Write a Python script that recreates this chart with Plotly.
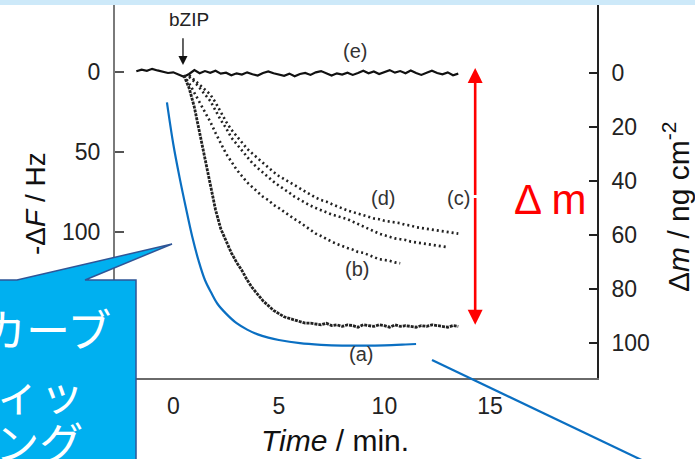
import plotly.graph_objects as go

# ---------------- data ----------------
# x = time / min, y = -dF / Hz (left axis)
t_e = [-1.75, -1.5, -1.25, -1.0, -0.75, -0.5, -0.25, 0.0, 0.25, 0.5, 0.75, 1.0, 1.25, 1.5, 1.75,
       2.0, 2.25, 2.5, 2.75, 3.0, 3.25, 3.5, 3.75, 4.0, 4.25, 4.5, 4.75, 5.0, 5.25, 5.5, 5.75,
       6.0, 6.25, 6.5, 6.75, 7.0, 7.25, 7.5, 7.75, 8.0, 8.25, 8.5, 8.75, 9.0, 9.25, 9.5, 9.75,
       10.0, 10.25, 10.5, 10.75, 11.0, 11.25, 11.5, 11.75, 12.0, 12.25, 12.5, 12.75, 13.0, 13.25, 13.5]
f_e = [-0.5, -1.5, -0.8, -2.0, -1.0, -0.2, 0.6, 0.2, 1.5, 3.0, 1.2, -1.2, 0.8, -0.6, 0.5,
       -0.8, 1.0, 0.4, 2.0, 0.8, 1.6, 0.2, 1.4, 2.2, 0.6, -0.4, 0.8, 1.5, 2.4, 1.0, 2.6,
       1.2, 0.6, 1.8, 0.2, -0.6, 1.0, 2.2, 0.8, 1.6, 0.4, 1.8, 0.6, -0.8, 0.8, -0.4, 1.2,
       0.2, -1.2, 0.4, -0.6, 0.8, -1.0, 0.6, 1.8, 0.4, -0.8, 0.6, 1.4, 0.2, 2.0, 1.0]

t_a = [0.5, 0.75, 1.0, 1.25, 1.5, 1.75, 2.0, 2.25, 2.5, 2.75, 3.0, 3.25, 3.5, 3.75, 4.0, 4.25,
       4.5, 4.75, 5.0, 5.25, 5.5, 5.75, 6.0, 6.25, 6.5, 6.75, 7.0, 7.25, 7.5, 7.75, 8.0, 8.25,
       8.5, 8.75, 9.0, 9.25, 9.5, 9.75, 10.0, 10.25, 10.5, 10.75, 11.0, 11.25, 11.5, 11.75,
       12.0, 12.25, 12.5, 12.75, 13.0, 13.25, 13.5]
f_a = [2, 10, 22, 38, 55, 72, 86, 98, 106, 113, 119, 124, 130, 135, 139, 143,
       146, 149, 151, 153, 154, 155, 156, 157, 157, 157.5, 158, 157, 158.5, 158, 159, 158,
       158.5, 159.5, 158, 158.5, 159, 158, 158.5, 159.5, 158, 159, 158.5, 159, 159.5, 158.5,
       159, 158, 158.5, 159, 159.5, 158.5, 159]

t_b = [0.5, 0.75, 1.0, 1.25, 1.5, 1.75, 2.0, 2.25, 2.5, 2.75, 3.0, 3.25, 3.5, 3.75, 4.0, 4.25,
       4.5, 4.75, 5.0, 5.25, 5.5, 5.75, 6.0, 6.25, 6.5, 6.75, 7.0, 7.25, 7.5, 7.75, 8.0, 8.25,
       8.5, 8.75, 9.0, 9.25, 9.5, 9.75, 10.0, 10.25, 10.5, 10.75]
f_b = [2, 7, 13, 19, 25, 31, 38, 45, 51, 56, 61, 65, 69, 72, 75, 78,
       80, 83, 85, 87.5, 90, 92, 94, 96.5, 98.5, 101, 102.5, 104, 106, 107.5, 109, 110,
       111, 112.5, 113, 114.5, 115.5, 117, 117.5, 118, 119, 119.5]

t_c = [0.75, 1.0, 1.25, 1.5, 1.75, 2.0, 2.25, 2.5, 2.75, 3.0, 3.25, 3.5, 3.75, 4.0, 4.25, 4.5,
       4.75, 5.0, 5.25, 5.5, 5.75, 6.0, 6.25, 6.5, 6.75, 7.0, 7.25, 7.5, 7.75, 8.0, 8.25, 8.5,
       8.75, 9.0, 9.25, 9.5, 9.75, 10.0, 10.25, 10.5, 10.75, 11.0, 11.25, 11.5, 11.75, 12.0,
       12.25, 12.5, 12.75, 13.0]
f_c = [3, 6, 10, 14, 18, 24, 30, 35, 41, 45, 49, 53, 57, 60, 63, 66,
       68.5, 71, 73, 75.5, 78, 80, 81.5, 83.5, 85, 86.5, 87.5, 89, 90, 91, 92, 93.5,
       95, 97, 98.5, 100, 101, 102, 103, 104, 104.5, 105, 106, 106.5, 107, 107.5,
       108, 108.5, 109, 109.5]

t_d = [0.75, 1.0, 1.25, 1.5, 1.75, 2.0, 2.25, 2.5, 2.75, 3.0, 3.25, 3.5, 3.75, 4.0, 4.25, 4.5,
       4.75, 5.0, 5.25, 5.5, 5.75, 6.0, 6.25, 6.5, 6.75, 7.0, 7.25, 7.5, 7.75, 8.0, 8.25, 8.5,
       8.75, 9.0, 9.25, 9.5, 9.75, 10.0, 10.25, 10.5, 10.75, 11.0, 11.25, 11.5, 11.75, 12.0,
       12.25, 12.5, 12.75, 13.0, 13.25, 13.5]
f_d = [2, 5, 8, 11, 14, 19, 25, 31, 36, 40, 44, 48, 51, 54, 57, 60,
       62.5, 65, 67, 69, 71, 72.5, 74.5, 76.5, 78.5, 80, 81, 82.5, 84, 85, 86.5, 87.5,
       88.5, 89.5, 90.5, 91.5, 92, 93, 93.5, 94, 94.5, 95.5, 96, 97, 97.5, 98,
       98.5, 99, 99.5, 100, 100.5, 101]

# curve fitting line (blue)
t_fit = [-0.3, 0.0, 0.3, 0.6, 0.9, 1.2, 1.5, 1.8, 2.1, 2.5, 3.0, 3.5, 4.0, 4.5, 5.0, 6.0,
         7.0, 8.0, 9.0, 10.0, 11.0, 11.5]
f_fit = [19, 45, 66, 85, 103, 118, 130, 138, 145, 151, 157, 161, 164, 166, 167.5, 169.5,
         170.5, 171, 171, 170.8, 170.3, 170]

x_ticks = [0, 5, 10, 15]
yl_ticks = [0, 50, 100, 150]
yr_ticks = [0, 20, 40, 60, 80, 100]

labels = ["(e)", "(d)", "(c)", "(b)", "(a)"]
label_t = [8.6, 9.95, 13.5, 8.7, 8.9]
label_f = [-13, 78.5, 78.5, 123, 176]

dm_t = 14.3          # position of the Δm double arrow
dm_top, dm_bot = -2.5, 158
bzip_t, bzip_tip, bzip_tail = 0.46, -4.4, -22

# ---------------- layout geometry ----------------
W, H = 695, 459
L, R, T, B = 115, 597, 5, 378


def pxx(x):
    return (x - L) / (R - L)


def pxy(y):
    return (B - y) / (B - T)


FONT = "Liberation Sans, Arial, sans-serif"
DOT = "#222222"

fig = go.Figure()
fig.add_trace(go.Scatter(x=t_e, y=f_e, mode="lines", line=dict(color="#111", width=2.2)))
fig.add_trace(go.Scatter(x=t_a, y=f_a, mode="lines",
                         line=dict(color=DOT, width=2.8, dash="3px,1px")))
for tt, ff in [(t_b, f_b), (t_c, f_c), (t_d, f_d)]:
    fig.add_trace(go.Scatter(x=tt, y=ff, mode="lines",
                             line=dict(color=DOT, width=2.6, dash="2px,3px")))
fig.add_trace(go.Scatter(x=t_fit, y=f_fit, mode="lines", line_shape="spline",
                         line=dict(color="#0a6fc2", width=2.2)))
fig.add_trace(go.Scatter(x=[], y=[], yaxis="y2"))

fig.update_layout(
    width=W, height=H, showlegend=False,
    margin=dict(l=L, r=W - R, t=T, b=H - B),
    paper_bgcolor="white", plot_bgcolor="white",
    font=dict(family=FONT, color="#222"),
    xaxis=dict(range=[-2.76, 20.07], tickvals=x_ticks, showgrid=False, zeroline=False,
               showline=True, linecolor="#6a6a6a", linewidth=2, ticks="",
               tickfont=dict(size=23), ticklabelstandoff=6),
    yaxis=dict(range=[191.25, -41.9], tickvals=yl_ticks, showgrid=False, zeroline=False,
               showline=True, linecolor="#7a7a7a", linewidth=2, ticks="inside",
               ticklen=9, tickcolor="#555", tickwidth=1.5,
               tickfont=dict(size=23), ticklabelstandoff=8),
    yaxis2=dict(range=[112.96, -25.2], tickvals=yr_ticks, overlaying="y", side="right",
                showgrid=False, zeroline=False, showline=True, linecolor="#222",
                linewidth=1.6, ticks="inside", ticklen=8, tickcolor="#222", tickwidth=1.5,
                tickfont=dict(size=23), ticklabelstandoff=8),
)

shapes = []
# light-blue strip at top
shapes.append(dict(type="rect", xref="paper", yref="paper", x0=pxx(0), x1=pxx(W),
                   y0=pxy(T), y1=pxy(-2), fillcolor="#cde9f9", line_width=0, layer="above"))
# long blue line to the lower right
shapes.append(dict(type="line", xref="paper", yref="paper", x0=pxx(432), y0=pxy(360),
                   x1=pxx(650), y1=pxy(464), line=dict(color="#0a6fc2", width=2.2)))
# callout box with pointer
pts = [(-10, 280), (17, 280), (172, 244), (85, 280), (136, 280), (136, 470), (-10, 470)]
path = "M " + " L ".join(f"{pxx(a):.4f},{pxy(b):.4f}" for a, b in pts) + " Z"
shapes.append(dict(type="path", xref="paper", yref="paper", path=path,
                   fillcolor="#00b0f0", line=dict(color="#2f5597", width=1.5), layer="above"))
fig.update_layout(shapes=shapes)

ann = []
for txt, tx, fy in zip(labels, label_t, label_f):
    ann.append(dict(x=tx, y=fy, xref="x", yref="y", text=txt, showarrow=False,
                    xanchor="center", yanchor="middle",
                    font=dict(size=20, color="#333")))
# bZIP arrow
ann.append(dict(x=bzip_t, y=bzip_tip, ax=bzip_t, ay=bzip_tail, xref="x", yref="y",
                axref="x", ayref="y", text="", showarrow=True, arrowhead=2,
                arrowwidth=1.3, arrowsize=1.4, arrowcolor="#111"))


def pann(text, x, y, size, color="#111", angle=0, family=FONT, xanchor="center"):
    return dict(x=pxx(x), y=pxy(y), xref="paper", yref="paper", text=text,
                showarrow=False, xanchor=xanchor, yanchor="middle", textangle=angle,
                font=dict(size=size, color=color, family=family))


ann.append(pann("bZIP", 189, 19, 19, "#222"))
# Δm double arrow
mid = (dm_top + dm_bot) / 2
for tip in (dm_top, dm_bot):
    ann.append(dict(x=dm_t, y=tip, ax=dm_t, ay=mid, xref="x", yref="y", axref="x",
                    ayref="y", text="", showarrow=True, arrowhead=2, arrowwidth=2.6,
                    arrowsize=1.15, arrowcolor="#ff0000"))
ann.append(pann("Δ m", 550, 199, 42, "#ff0000"))
# axis titles
ann.append(pann("<i>Time</i> / min.", 335, 440, 30))
ann.append(pann("-Δ<i>F</i> / Hz", 35, 204, 28, angle=-90))
ann.append(pann("Δ<i>m</i> / ng cm<sup>-2</sup>", 676, 207, 30, angle=-90))
# callout text
JP = "Noto Sans CJK JP"
for txt, right, cy in [("カーブ", 113, 328), ("フィッ", 86, 392), ("ティング", 85, 441)]:
    ann.append(pann(txt, right, cy, 44, "white", family=JP, xanchor="right"))
fig.update_layout(annotations=ann)

fig.write_html("out.html", config={"displayModeBar": False},
               post_script="document.body.style.margin='0px';"
                           "document.body.style.overflow='hidden';")
